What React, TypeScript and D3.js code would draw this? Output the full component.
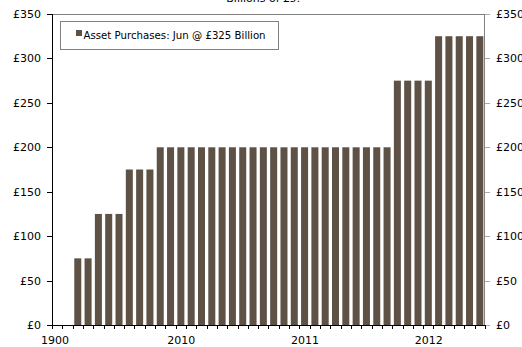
import React from "react";
import * as d3 from "d3";

const W = 522;
const H = 347;

const axisMonths: string[] = d3
  .timeMonth.range(new Date(2009, 0, 1), new Date(2012, 6, 1))
  .map((d) => d3.timeFormat("%Y-%m")(d));

const barStart = "2009-03";
const purchases: number[] = [
  75, 75, 125, 125, 125, 175, 175, 175,
  200, 200, 200, 200, 200, 200, 200, 200, 200, 200, 200, 200,
  200, 200, 200, 200, 200, 200, 200, 200, 200, 200, 200,
  275, 275, 275, 275,
  325, 325, 325, 325, 325,
];
const yTicks: number[] = [0, 50, 100, 150, 200, 250, 300, 350];
const yearLabels: { month: string; label: string }[] = [
  { month: "2009-01", label: "1900" },
  { month: "2010-01", label: "2010" },
  { month: "2011-01", label: "2011" },
  { month: "2012-01", label: "2012" },
];
const legendText = "Asset Purchases: Jun @ £325 Billion";
const titleText = "Billions of £s?";

const FONT = "DejaVu Sans, Verdana, sans-serif";
const BAR = "#5e5246";

export default function App() {
  const left = 52, right = 485, top = 14, bottom = 325;
  const x = d3.scaleBand<string>().domain(axisMonths).range([left, right]).paddingInner(0.32).paddingOuter(0.16);
  const y = d3.scaleLinear().domain([0, 350]).range([bottom, top]);
  const step = x.step();
  const startIdx = axisMonths.indexOf(barStart);
  const bars = purchases.map((v, i) => ({ m: axisMonths[startIdx + i], v }));
  const boundary = (m: string) => (x(m) as number) - (step * 0.32) / 2;
  const tickXs = axisMonths.map((m) => boundary(m)).concat([right]);

  return (
    <svg width={W} height={H} style={{ position: "absolute", left: 0, top: 0, background: "#fff" }} fontFamily={FONT}>
      <text x={264} y={2} fontSize={11} textAnchor="middle" fill="#000">{titleText}</text>
      {bars.map((b) => (
        <rect key={b.m} x={x(b.m)} y={y(b.v)} width={x.bandwidth()} height={y(0) - y(b.v)} fill={BAR} />
      ))}
      {/* plot frame */}
      <line x1={left} x2={right} y1={top + 0.5} y2={top + 0.5} stroke="#808080" />
      <line x1={right - 0.5} x2={right - 0.5} y1={top} y2={bottom} stroke="#808080" />
      <line x1={left + 0.5} x2={left + 0.5} y1={top} y2={bottom + 1} stroke="#000" />
      <line x1={left} x2={right} y1={bottom + 0.5} y2={bottom + 0.5} stroke="#000" />
      {/* left axis */}
      {yTicks.map((t) => (
        <g key={"l" + t}>
          <line x1={47} x2={52} y1={Math.round(y(t)) + 0.5} y2={Math.round(y(t)) + 0.5} stroke="#000" />
          <text x={41} y={y(t) + 4} fontSize={11} textAnchor="end" fill="#000">{"£" + t}</text>
        </g>
      ))}
      {/* right axis */}
      {yTicks.map((t) => (
        <g key={"r" + t}>
          <line x1={485} x2={490} y1={Math.round(y(t)) + 0.5} y2={Math.round(y(t)) + 0.5} stroke="#aaa" />
          <text x={496} y={y(t) + 4} fontSize={11} textAnchor="start" fill="#000">{"£" + t}</text>
        </g>
      ))}
      {/* bottom ticks */}
      {tickXs.map((tx, i) => (
        <line key={"b" + i} x1={Math.round(tx) + 0.5} x2={Math.round(tx) + 0.5} y1={bottom} y2={bottom + 4} stroke="#000" />
      ))}
      {yearLabels.map((yl, i) => (
        <text key={yl.label} x={boundary(yl.month) + (i === 0 ? 3 : 5.5)} y={344} fontSize={11} textAnchor="middle" fill="#000">{yl.label}</text>
      ))}
      {/* legend */}
      <rect x={60.5} y={21.5} width={218} height={28} fill="#fff" stroke="#808080" />
      <rect x={76} y={30} width={6} height={6} fill={BAR} />
      <text x={83.5} y={38.5} fontSize={10.2} fill="#000">{legendText}</text>
    </svg>
  );
}
